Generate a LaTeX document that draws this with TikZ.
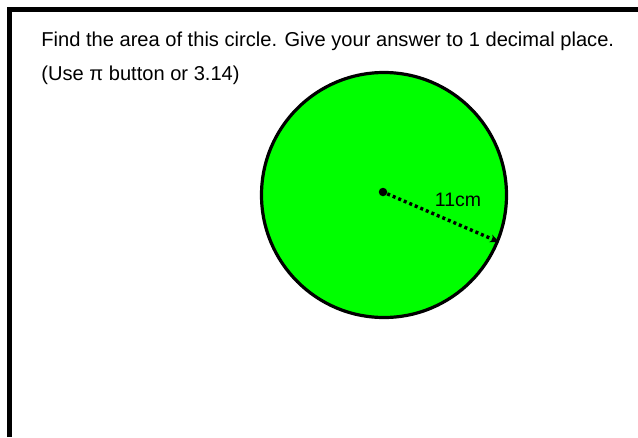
\documentclass[tikz,border=0pt]{standalone}
\usepackage{fontspec}
\setmainfont{Liberation Sans}
\usetikzlibrary{arrows.meta}
\definecolor{disc}{RGB}{0,255,0}
\begin{document}
\begin{tikzpicture}[x=1pt, y=-1pt, thick,
    question/.style={anchor=base west, inner sep=0pt, font=\fontsize{20.1}{24}\selectfont},
    every node/.style={inner sep=0pt}]
    \useasboundingbox (0,0) rectangle (638,437);

    % --- frame ---
    \draw[line width=5pt] (9.5,437) -- (9.5,9.5) -- (638,9.5);

    % --- text ---
    \node[question] (q1) at (41,46) {Find the area of this circle. Give your answer to 1 decimal place.};
    \node[question] (q2) at (41,80) {(Use π button or 3.14)};

    % --- circle ---
    \draw[fill=disc, line width=3.2pt] (384,195) circle (122.5);
    \node[circle, fill=black, minimum size=8.5pt] (ctr) at (383,192) {};
    \coordinate (rim) at (499,242);
    \draw[line width=3.4pt, dash pattern=on 3pt off 3pt, -{Stealth[length=9pt,width=8pt]}] (ctr) -- (rim);
    \node[font=\fontsize{19.5}{22}\selectfont] (rad) at (458,200) {11cm};
\end{tikzpicture}
\end{document}
